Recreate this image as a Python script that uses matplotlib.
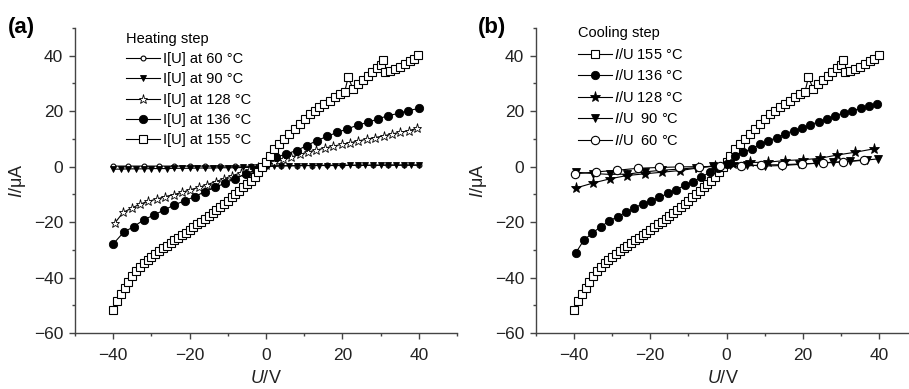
import matplotlib.pyplot as plt
from matplotlib.ticker import MultipleLocator

plt.rcParams['font.family'] = ['Liberation Sans', 'DejaVu Sans']
plt.rcParams['mathtext.fontset'] = 'custom'
plt.rcParams['mathtext.it'] = 'Liberation Sans:italic'
plt.rcParams['mathtext.rm'] = 'Liberation Sans'

# ---- data (U in V, I in uA) ----

# 155 C, same curve in both panels
U155 = [-40, -39, -38, -37, -36, -35, -34, -33, -32, -31,
        -30, -29, -28, -27, -26, -25, -24, -23, -22, -21,
        -20, -19, -18, -17, -16, -15, -14, -13, -12, -11,
        -10, -9, -8, -7, -6, -5, -4, -3, -2, -1, 0,
        1.0, 2.2, 3.5, 4.8, 6.1, 7.5, 8.8, 10.1, 11.4, 12.7, 14.0, 15.3, 16.7,
        18.0, 19.3, 20.6, 21.5, 22.8, 24.1, 25.4, 26.6, 27.8, 29.0, 30.0, 30.5,
        31.1, 32.4, 33.8, 35.1, 36.4, 37.7, 38.8, 39.9]
I155 = [-51.8, -48.5, -46.0, -43.8, -41.5, -39.6, -37.8, -36.3, -34.9, -33.6,
        -32.5, -31.5, -30.5, -29.5, -28.5, -27.5, -26.5, -25.6, -24.7, -23.8,
        -22.8, -21.8, -20.8, -19.8, -18.8, -17.7, -16.6, -15.6, -14.5, -13.4,
        -12.3, -11.1, -9.9, -8.7, -7.5, -6.2, -5.0, -3.6, -2.0, -0.2, 1.8,
        4.0, 6.4, 8.2, 10.0, 11.8, 13.6, 15.4, 17.2, 19.0, 20.2, 21.4, 22.6, 23.8,
        25.0, 26.2, 27.0, 32.2, 28.0, 29.8, 31.2, 32.6, 34.0, 35.4, 36.6, 38.6,
        34.0, 34.6, 35.3, 36.1, 37.0, 38.2, 39.0, 40.2]

# heating step
Uh136 = [-40, -37.3, -34.6, -32, -29.3, -26.6, -24, -21.3, -18.6, -16, -13.3,
         -10.7, -8, -5.3, -2.7, 0, 2.7, 5.3, 8, 10.7, 13.3, 16, 18.7, 21.3, 24,
         26.7, 29.3, 32, 34.7, 37.3, 40]
Ih136 = [-27.9, -23.7, -21.6, -19.2, -17.4, -15.6, -13.8, -12.3, -10.8, -9.0,
         -7.5, -5.9, -4.3, -2.6, -1.1, 0.8, 3.4, 4.6, 5.8, 7.6, 9.4, 10.9, 12.4,
         13.6, 15.0, 16.0, 17.2, 18.4, 19.2, 20.2, 21.0]

U22 = [-39.6, -37.4, -35.2, -33.0, -30.8, -28.6, -26.4, -24.2, -22.0, -19.8,
       -17.6, -15.4, -13.2, -11.0, -8.8, -6.6, -4.4, -2.2, 0.0, 2.2, 4.4, 6.6,
       8.8, 11.0, 13.2, 15.4, 17.6, 19.8, 22.0, 24.2, 26.4, 28.6, 30.8, 33.0,
       35.2, 37.4, 39.6]
Ih128 = [-20.4, -16.5, -15.0, -13.5, -12.5, -11.7, -10.8, -10.1, -9.3, -8.3,
         -7.5, -6.5, -5.4, -4.4, -3.2, -2.3, -1.2, -0.3, 0.5, 1.6, 2.6, 3.5,
         4.4, 5.3, 6.0, 6.7, 7.4, 8.0, 8.6, 9.3, 9.9, 10.5, 11.1, 11.8, 12.4,
         13.0, 13.8]

Uh90 = [-40, -38, -36, -34, -32, -30, -28, -26, -24, -22, -20, -18, -16, -14,
        -12, -10, -8, -6, -4, -2, 0, 2, 4, 6, 8, 10, 12, 14, 16, 18, 20, 22,
        24, 26, 28, 30, 32, 34, 36, 38, 40]
Ih90 = [-0.9, -0.9, -0.8, -0.8, -0.8, -0.7, -0.7, -0.7, -0.6, -0.6, -0.6, -0.5,
        -0.5, -0.5, -0.4, -0.4, -0.4, -0.3, -0.3, -0.2, 0.0, 0.2, 0.3, 0.3,
        0.3, 0.4, 0.4, 0.4, 0.4, 0.4, 0.4, 0.5, 0.5, 0.5, 0.5, 0.5, 0.5, 0.5,
        0.5, 0.5, 0.5]

Uh60 = [-40, -36, -32, -28, -24, -20, -16, -12, -8, -4, 0, 4, 8, 12, 16, 20,
        24, 28, 32, 36, 40]
Ih60 = [0.2, 0.2, 0.2, 0.2, 0.2, 0.2, 0.2, 0.2, 0.2, 0.1, 0.1, 0.3, 0.4, 0.4,
        0.5, 0.5, 0.5, 0.5, 0.6, 0.6, 0.6]

# cooling step
Ic136 = [-31.2, -26.4, -24.0, -21.6, -19.7, -18.0, -16.5, -14.9, -13.4, -12.3,
         -11.1, -9.6, -8.3, -6.8, -5.4, -3.8, -2.0, -0.5, 1.0, 3.8, 5.2, 6.5,
         8.0, 9.3, 10.5, 11.8, 13.0, 13.9, 15.1, 16.2, 17.2, 18.4, 19.4, 20.2,
         21.0, 21.7, 22.6]

Uc128 = [-39.5, -35.0, -30.6, -26.1, -21.5, -16.8, -12.2, -7.6, -2.9, 1.6, 6.2,
         10.8, 15.4, 20.0, 24.5, 29.1, 33.8, 38.6]
Ic128 = [-7.7, -5.9, -4.4, -3.2, -2.6, -2.0, -1.4, -0.5, 0.4, 1.0, 1.5, 1.6,
         2.2, 2.5, 3.0, 4.2, 5.2, 6.4]

Uc90 = [-39.5, -35.0, -30.5, -26.0, -21.5, -17.0, -12.5, -8.0, -3.5, 1.0, 5.5,
        10.0, 14.5, 19.0, 23.5, 28.0, 32.5, 37.0, 39.7]
Ic90 = [-2.0, -2.5, -2.8, -2.7, -1.9, -1.3, -0.9, -0.4, 0.1, 0.6, 0.6, 0.2,
        0.4, 0.8, 1.2, 1.6, 1.9, 2.4, 2.8]

Uc60 = [-39.7, -34.2, -28.7, -23.3, -17.8, -12.5, -7.1, -1.8, 3.9, 9.1, 14.6,
        19.9, 25.3, 30.7, 36.0]
Ic60 = [-2.6, -1.9, -1.3, -0.6, -0.3, -0.1, 0.0, 0.1, 0.1, 0.6, 0.7, 1.0,
        1.3, 1.7, 2.5]


W, H = 909, 389
fig = plt.figure(figsize=(W / 100, H / 100), dpi=100)
ax1 = fig.add_axes([75 / W, 56 / H, 382 / W, 305 / H])
ax2 = fig.add_axes([536 / W, 56 / H, 373 / W, 305 / H])


def style(ax, xmax):
    ax.set_xlim(-50, xmax)
    ax.set_ylim(-60, 50)
    for s in ['top', 'right']:
        ax.spines[s].set_visible(False)
    for s in ['left', 'bottom']:
        ax.spines[s].set_color('#444444')
        ax.spines[s].set_linewidth(1.0)
    ax.set_xticks([-40, -20, 0, 20, 40])
    ax.set_yticks([-60, -40, -20, 0, 20, 40])
    ax.xaxis.set_minor_locator(MultipleLocator(10))
    ax.yaxis.set_minor_locator(MultipleLocator(10))
    ax.tick_params(which='both', direction='out', color='#444444', width=1.0,
                   labelsize=12.5, labelcolor='#222222')
    ax.tick_params(which='major', length=4.5, pad=4)
    ax.tick_params(axis='x', which='major', pad=6)
    ax.tick_params(which='minor', length=2.5)
    ax.set_xlabel('$U$/V', fontsize=13, labelpad=5, color='#222222')
    ax.set_ylabel('$I$/μA', fontsize=13, labelpad=4, color='#222222')


lw = 0.8
# panel (a) - heating
ax1.plot(Uh60, Ih60, '-o', color='k', lw=lw, ms=3.5, mfc='white', mew=0.8,
         label='I[U] at 60 °C')
ax1.plot(Uh90, Ih90, '-v', color='k', lw=lw, ms=4.5, mfc='k', mew=0.6,
         label='I[U] at 90 °C')
ax1.plot(U22, Ih128, '-*', color='k', lw=lw, ms=6.5, mfc='white', mew=0.6,
         label='I[U] at 128 °C')
ax1.plot(Uh136, Ih136, '-o', color='k', lw=lw, ms=6, mfc='k', mew=0.6,
         label='I[U] at 136 °C')
ax1.plot(U155, I155, '-s', color='k', lw=lw, ms=5.4, mfc='white', mew=0.8,
         label='I[U] at 155 °C')
style(ax1, 50)
leg1 = ax1.legend(title='Heating step', loc='upper left',
                  bbox_to_anchor=(0.115, 1.01), frameon=False, fontsize=10.5,
                  title_fontsize=10.5, alignment='left', handlelength=2.3,
                  handletextpad=0.2, labelspacing=0.42, borderpad=0)

# panel (b) - cooling
ax2.plot(U155, I155, '-s', color='k', lw=lw, ms=5.4, mfc='white', mew=0.8,
         label='$I$/U 155 °C')
ax2.plot(U22, Ic136, '-o', color='k', lw=lw, ms=6, mfc='k', mew=0.6,
         label='$I$/U 136 °C')
ax2.plot(Uc128, Ic128, '-*', color='k', lw=lw, ms=8, mfc='k', mew=0.6,
         label='$I$/U 128 °C')
ax2.plot(Uc90, Ic90, '-v', color='k', lw=lw, ms=6, mfc='k', mew=0.6,
         label='$I$/U  90 °C')
ax2.plot(Uc60, Ic60, '-o', color='k', lw=lw, ms=6, mfc='white', mew=0.8,
         label='$I$/U  60 °C')
style(ax2, 47.9)
leg2 = ax2.legend(title='Cooling step', loc='upper left',
                  bbox_to_anchor=(0.093, 1.03), frameon=False, fontsize=10.5,
                  title_fontsize=10.5, alignment='left', handlelength=2.3,
                  handletextpad=0.2, labelspacing=0.45, borderpad=0)

fig.text(8 / W, 1 - 17 / H, '(a)', fontsize=16, fontweight='bold', va='top')
fig.text(478 / W, 1 - 17 / H, '(b)', fontsize=16, fontweight='bold', va='top')

fig.savefig('out.png', dpi=100)
